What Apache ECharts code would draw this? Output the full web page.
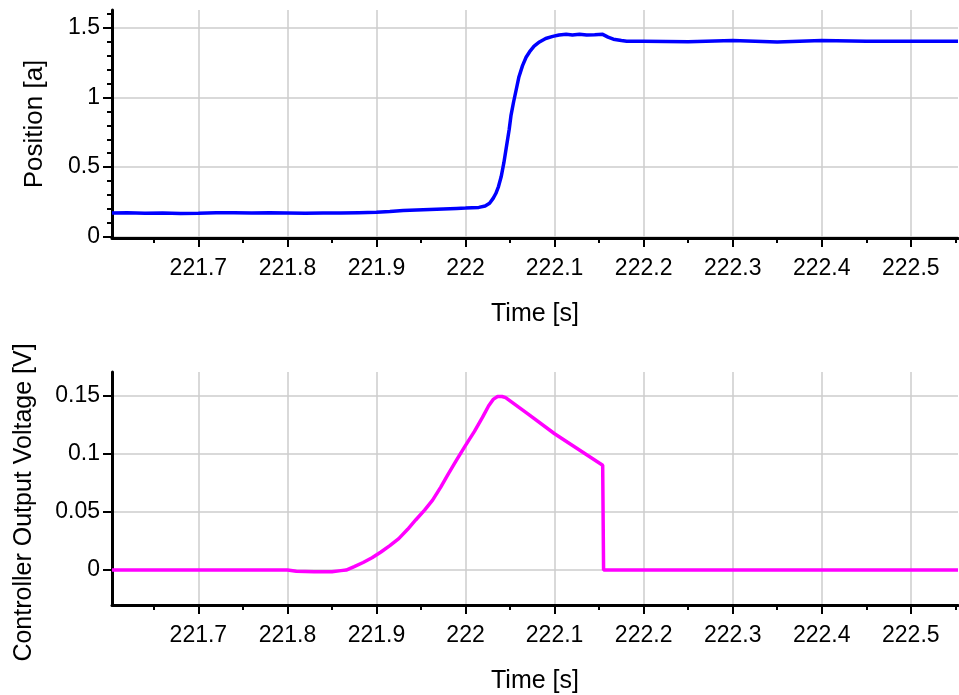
<!DOCTYPE html>
<html>
<head>
<meta charset="utf-8">
<script src="https://cdn.jsdelivr.net/npm/echarts@6/dist/echarts.min.js"></script>
<style>
html,body{margin:0;padding:0;background:#fff;}
#c{width:959px;height:695px;}
</style>
</head>
<body>
<div id="c"></div>
<script>
// Position trace
const posTime = [221.603,221.62,221.64,221.66,221.68,221.70,221.72,221.74,221.76,221.78,221.80,221.82,221.84,221.86,221.88,221.90,221.915,221.93,221.945,221.96,221.975,221.99,222.00,222.015,222.022,222.027,222.031,222.034,222.037,222.040,222.043,222.046,222.049,222.051,222.054,222.057,222.060,222.064,222.068,222.072,222.077,222.083,222.090,222.098,222.105,222.113,222.12,222.128,222.136,222.145,222.154,222.16,222.166,222.175,222.181,222.20,222.25,222.30,222.35,222.40,222.45,222.50,222.553];
const posValue = [0.170,0.172,0.168,0.170,0.167,0.168,0.171,0.172,0.169,0.172,0.170,0.168,0.170,0.169,0.172,0.175,0.180,0.187,0.191,0.195,0.199,0.203,0.205,0.210,0.220,0.240,0.275,0.310,0.360,0.430,0.530,0.650,0.770,0.870,0.970,1.060,1.150,1.230,1.290,1.330,1.370,1.400,1.425,1.440,1.450,1.455,1.450,1.455,1.450,1.452,1.455,1.435,1.420,1.410,1.405,1.405,1.402,1.410,1.400,1.410,1.405,1.405,1.405];
// Controller output voltage trace
const voltTime = [221.603,221.80,221.81,221.83,221.85,221.86,221.866,221.875,221.885,221.895,221.905,221.915,221.925,221.935,221.944,221.954,221.963,221.972,221.981,221.99,222.00,222.01,222.019,222.026,222.031,222.036,222.041,222.045,222.07,222.10,222.154,222.155,222.553];
const voltValue = [0,0,-0.001,-0.0015,-0.0015,-0.0005,0,0.003,0.0065,0.0105,0.0155,0.021,0.027,0.035,0.043,0.0515,0.060,0.071,0.083,0.0945,0.107,0.119,0.131,0.141,0.1465,0.149,0.149,0.148,0.134,0.117,0.090,0,0];
// Tick labels
const xTicks = [221.7,221.8,221.9,222.0,222.1,222.2,222.3,222.4,222.5];
const posTicks = [0,0.5,1,1.5];
const voltTicks = [0,0.05,0.1,0.15];

const FONT = 'Liberation Sans, Arial, Helvetica, sans-serif';
const xMin = 221.603, xMax = 222.553;

function xAxisCfg(gi){
  return {
    type:'value', gridIndex:gi, min:xMin, max:xMax, splitNumber:10,
    name:'Time [s]', nameLocation:'middle', nameGap:64,
    nameTextStyle:{color:'#000', fontSize:25, fontFamily:FONT},
    axisLine:{onZero:false, lineStyle:{color:'#000', width:3}},
    axisTick:{show:true, length:9, lineStyle:{color:'#000', width:2}, customValues:xTicks},
    minorTick:{show:true, splitNumber:2, length:5, lineStyle:{color:'#000', width:2}},
    axisLabel:{color:'#000', fontSize:23, fontFamily:FONT, margin:19, customValues:xTicks,
      formatter:v=>String(Math.round(v*10)/10)},
    splitLine:{show:true, lineStyle:{color:'#cccccc', width:1.5}}
  };
}

const chart = echarts.init(document.getElementById('c'), null, {renderer:'canvas'});
chart.setOption({
  animation:false,
  backgroundColor:'#fff',
  grid:[
    {left:112, top:10, right:1, height:228, containLabel:false},
    {left:112, top:372, right:1, height:233, containLabel:false}
  ],
  xAxis:[xAxisCfg(0), xAxisCfg(1)],
  yAxis:[
    {type:'value', gridIndex:0, min:-0.01, max:1.63, splitNumber:4,
     name:'Position [a]', nameLocation:'middle', nameGap:64,
     nameTextStyle:{color:'#000', fontSize:26, fontFamily:FONT},
     axisLine:{show:true, onZero:false, lineStyle:{color:'#000', width:3}},
     axisTick:{show:true, length:9, lineStyle:{color:'#000', width:2}, customValues:posTicks},
     minorTick:{show:true, splitNumber:5, length:5, lineStyle:{color:'#000', width:2}},
     axisLabel:{color:'#000', fontSize:23, fontFamily:FONT, margin:12, customValues:posTicks},
     splitLine:{show:true, lineStyle:{color:'#cccccc', width:1.5}}
    },
    {type:'value', gridIndex:1, min:-0.03, max:0.17, splitNumber:4,
     name:'Controller Output Voltage [V]', nameLocation:'middle', nameGap:75,
     nameTextStyle:{color:'#000', fontSize:25, fontFamily:FONT, padding:[0,28,0,0]},
     axisLine:{show:true, onZero:false, lineStyle:{color:'#000', width:3}},
     axisTick:{show:true, length:9, lineStyle:{color:'#000', width:2}, customValues:voltTicks},
     axisLabel:{color:'#000', fontSize:23, fontFamily:FONT, margin:12, customValues:voltTicks},
     splitLine:{show:true, lineStyle:{color:'#cccccc', width:1.5}}
    }
  ],
  series:[
    {type:'line', xAxisIndex:0, yAxisIndex:0, showSymbol:false, symbol:'none',
     data:posTime.map((t,i)=>[t,posValue[i]]),
     lineStyle:{color:'#0000ff', width:3.5}, itemStyle:{color:'#0000ff'}},
    {type:'line', xAxisIndex:1, yAxisIndex:1, showSymbol:false, symbol:'none',
     data:voltTime.map((t,i)=>[t,voltValue[i]]),
     lineStyle:{color:'#ff00ff', width:3.5}, itemStyle:{color:'#ff00ff'}}
  ]
});
</script>
</body>
</html>
